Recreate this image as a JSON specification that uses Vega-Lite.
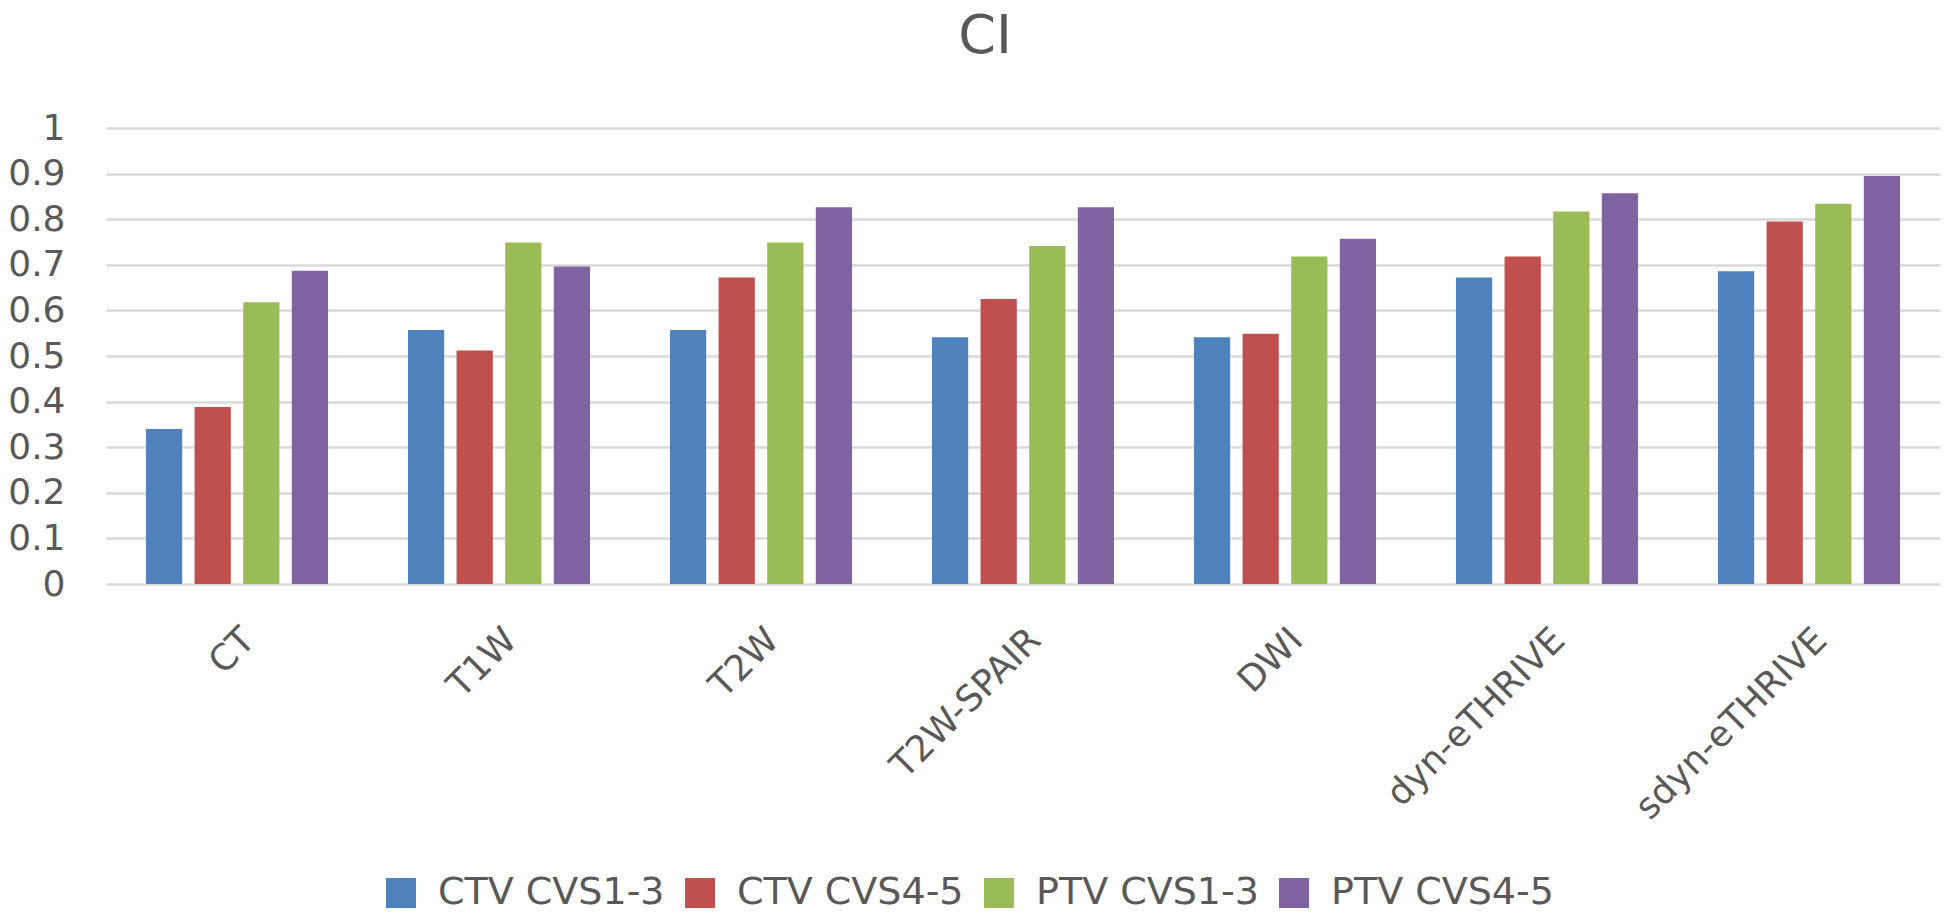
{
  "$schema": "https://vega.github.io/schema/vega-lite/v6.json",
  "width": 1834,
  "height": 456,
  "autosize": {"type": "none"},
  "padding": {"left": 106, "top": 128, "right": 6, "bottom": 331},
  "background": "white",
  "title": {
    "text": "CI",
    "fontSize": 54,
    "font": "DejaVu Sans",
    "fontWeight": "normal",
    "color": "#595959",
    "anchor": "middle",
    "frame": "group",
    "dx": -38,
    "offset": 46
  },
  "data": {
    "values": [
      {"modality": "CT", "series": "CTV CVS1-3", "value": 0.34},
      {"modality": "CT", "series": "CTV CVS4-5", "value": 0.388},
      {"modality": "CT", "series": "PTV CVS1-3", "value": 0.618},
      {"modality": "CT", "series": "PTV CVS4-5", "value": 0.687},
      {"modality": "T1W", "series": "CTV CVS1-3", "value": 0.557},
      {"modality": "T1W", "series": "CTV CVS4-5", "value": 0.512},
      {"modality": "T1W", "series": "PTV CVS1-3", "value": 0.749},
      {"modality": "T1W", "series": "PTV CVS4-5", "value": 0.696},
      {"modality": "T2W", "series": "CTV CVS1-3", "value": 0.557},
      {"modality": "T2W", "series": "CTV CVS4-5", "value": 0.672},
      {"modality": "T2W", "series": "PTV CVS1-3", "value": 0.749},
      {"modality": "T2W", "series": "PTV CVS4-5", "value": 0.826},
      {"modality": "T2W-SPAIR", "series": "CTV CVS1-3", "value": 0.541},
      {"modality": "T2W-SPAIR", "series": "CTV CVS4-5", "value": 0.625},
      {"modality": "T2W-SPAIR", "series": "PTV CVS1-3", "value": 0.741},
      {"modality": "T2W-SPAIR", "series": "PTV CVS4-5", "value": 0.826},
      {"modality": "DWI", "series": "CTV CVS1-3", "value": 0.541},
      {"modality": "DWI", "series": "CTV CVS4-5", "value": 0.549},
      {"modality": "DWI", "series": "PTV CVS1-3", "value": 0.718},
      {"modality": "DWI", "series": "PTV CVS4-5", "value": 0.757},
      {"modality": "dyn-eTHRIVE", "series": "CTV CVS1-3", "value": 0.672},
      {"modality": "dyn-eTHRIVE", "series": "CTV CVS4-5", "value": 0.718},
      {"modality": "dyn-eTHRIVE", "series": "PTV CVS1-3", "value": 0.817},
      {"modality": "dyn-eTHRIVE", "series": "PTV CVS4-5", "value": 0.857},
      {"modality": "sdyn-eTHRIVE", "series": "CTV CVS1-3", "value": 0.686},
      {"modality": "sdyn-eTHRIVE", "series": "CTV CVS4-5", "value": 0.795},
      {"modality": "sdyn-eTHRIVE", "series": "PTV CVS1-3", "value": 0.834},
      {"modality": "sdyn-eTHRIVE", "series": "PTV CVS4-5", "value": 0.895}
    ]
  },
  "mark": {"type": "bar"},
  "encoding": {
    "x": {
      "field": "modality",
      "type": "nominal",
      "sort": ["CT", "T1W", "T2W", "T2W-SPAIR", "DWI", "dyn-eTHRIVE", "sdyn-eTHRIVE"],
      "scale": {"paddingInner": 0.305, "paddingOuter": 0.1525},
      "axis": {
        "title": null,
        "labelAngle": -45,
        "labelFontSize": 36,
        "labelFont": "DejaVu Sans",
        "labelColor": "#595959",
        "labelPadding": 38,
        "labelLimit": 0,
        "labelOverlap": false,
        "ticks": false,
        "domain": false,
        "grid": false
      }
    },
    "xOffset": {
      "field": "series",
      "type": "nominal",
      "sort": ["CTV CVS1-3", "CTV CVS4-5", "PTV CVS1-3", "PTV CVS4-5"],
      "scale": {"paddingInner": 0.255, "paddingOuter": 0}
    },
    "y": {
      "field": "value",
      "type": "quantitative",
      "scale": {"domain": [0, 1], "nice": false},
      "axis": {
        "title": null,
        "values": [0, 0.1, 0.2, 0.3, 0.4, 0.5, 0.6, 0.7, 0.8, 0.9, 1],
        "format": ".1~f",
        "labelFontSize": 36,
        "labelFont": "DejaVu Sans",
        "labelColor": "#595959",
        "labelPadding": 41,
        "ticks": false,
        "domain": false,
        "grid": true,
        "gridColor": "#d9d9d9",
        "gridWidth": 2.5
      }
    },
    "color": {
      "field": "series",
      "type": "nominal",
      "sort": ["CTV CVS1-3", "CTV CVS4-5", "PTV CVS1-3", "PTV CVS4-5"],
      "scale": {
        "domain": ["CTV CVS1-3", "CTV CVS4-5", "PTV CVS1-3", "PTV CVS4-5"],
        "range": ["#4f81bd", "#c0504d", "#9bbb59", "#8064a2"]
      },
      "legend": {
        "title": null,
        "orient": "none",
        "direction": "horizontal",
        "legendX": 276,
        "legendY": 746,
        "symbolType": "square",
        "symbolSize": 900,
        "symbolStrokeWidth": 0,
        "labelFontSize": 38,
        "labelFont": "DejaVu Sans",
        "labelColor": "#595959",
        "labelOffset": 18,
        "labelLimit": 0,
        "columnPadding": 16,
        "padding": 0
      }
    }
  },
  "config": {
    "view": {"stroke": null}
  }
}
